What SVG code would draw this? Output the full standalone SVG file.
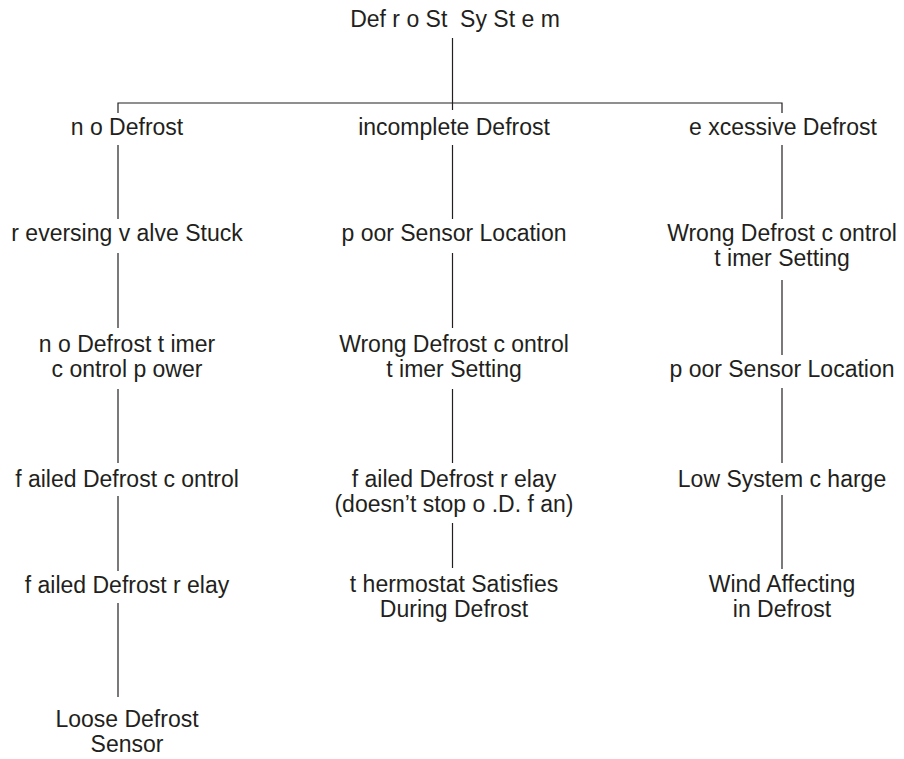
<svg xmlns="http://www.w3.org/2000/svg" width="904" height="759" viewBox="0 0 904 759">
  <style>
    text { font-family: "Liberation Sans", Arial, Helvetica, sans-serif; font-size: 23px; fill: #231f20; text-anchor: middle; white-space: pre; }
    .link { stroke: #231f20; stroke-width: 1.2; fill: none; }
  </style>
  <rect width="904" height="759" fill="#ffffff"/>

  <!-- connectors -->
  <g id="connectors" class="link">
    <path d="M452.5 38V110"/>
    <path d="M118 113V103H782V113"/>
    <!-- no defrost branch -->
    <path d="M118 145V219"/>
    <path d="M118 253V328"/>
    <path d="M118 389V463"/>
    <path d="M118 496V571"/>
    <path d="M118 603V697"/>
    <!-- incomplete defrost branch -->
    <path d="M452.5 145V219"/>
    <path d="M452.5 253V328"/>
    <path d="M452.5 389V463"/>
    <path d="M452.5 523V568"/>
    <!-- excessive defrost branch -->
    <path d="M782 145V219"/>
    <path d="M782 280V355"/>
    <path d="M782 388V463"/>
    <path d="M782 495V569"/>
  </g>

  <!-- root -->
  <g id="root"><text x="455" y="27">Def r o St  Sy St e m</text></g>

  <!-- no defrost column -->
  <g id="no-defrost"><text x="127" y="135">n o Defrost</text></g>
  <g id="reversing-valve"><text x="127" y="241">r eversing v alve Stuck</text></g>
  <g id="no-timer-power"><text x="127" y="352">n o Defrost t imer</text><text x="127" y="377">c ontrol p ower</text></g>
  <g id="failed-control"><text x="127" y="487">f ailed Defrost c ontrol</text></g>
  <g id="failed-relay-a"><text x="127" y="593">f ailed Defrost r elay</text></g>
  <g id="loose-sensor"><text x="127" y="727">Loose Defrost</text><text x="127" y="752">Sensor</text></g>

  <!-- incomplete defrost column -->
  <g id="incomplete-defrost"><text x="454" y="135">incomplete Defrost</text></g>
  <g id="poor-location-b"><text x="454" y="241">p oor Sensor Location</text></g>
  <g id="wrong-setting-b"><text x="454" y="352">Wrong Defrost c ontrol</text><text x="454" y="377">t imer Setting</text></g>
  <g id="failed-relay-b"><text x="454" y="487">f ailed Defrost r elay</text><text x="454" y="512">(doesn’t stop o .D. f an)</text></g>
  <g id="thermostat"><text x="454" y="592">t hermostat Satisfies</text><text x="454" y="617">During Defrost</text></g>

  <!-- excessive defrost column -->
  <g id="excessive-defrost"><text x="783" y="135">e xcessive Defrost</text></g>
  <g id="wrong-setting-c"><text x="782" y="241">Wrong Defrost c ontrol</text><text x="782" y="266">t imer Setting</text></g>
  <g id="poor-location-c"><text x="782" y="377">p oor Sensor Location</text></g>
  <g id="low-charge"><text x="782" y="487">Low System c harge</text></g>
  <g id="wind"><text x="782" y="592">Wind Affecting</text><text x="782" y="617">in Defrost</text></g>
</svg>
